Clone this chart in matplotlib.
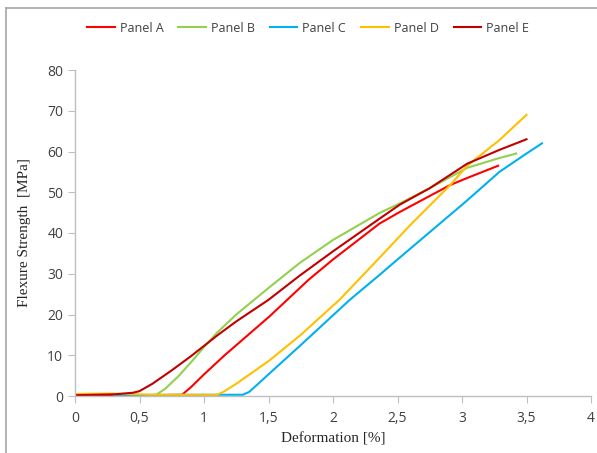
import matplotlib.pyplot as plt
from matplotlib.lines import Line2D
from matplotlib.ticker import FuncFormatter

# deformation [%] / flexure strength [MPa]
panel_a_x = [0, 0.5, 0.83, 0.9, 1.0, 1.16, 1.51, 1.81, 2.0, 2.36, 2.52, 2.91, 3.04, 3.28]
panel_a_y = [0.3, 0.2, 0.3, 2.2, 5.3, 10, 19.6, 28.5, 33.5, 42.3, 45.2, 51.8, 53.5, 56.5]

panel_b_x = [0.3, 0.63, 0.7, 0.8, 0.9, 1.0, 1.1, 1.25, 1.5, 1.74, 2.0, 2.36, 2.52, 2.75, 3.04, 3.29, 3.42]
panel_b_y = [0.2, 0.3, 1.8, 4.8, 8.3, 12, 15.5, 20, 26.5, 32.6, 38.3, 44.9, 47.3, 51, 56, 58.4, 59.5]

panel_c_x = [0.3, 1.0, 1.3, 1.35, 1.42, 1.51, 1.75, 2.13, 2.36, 2.5, 3.04, 3.29, 3.5, 3.62]
panel_c_y = [0.2, 0.3, 0.3, 1, 3, 5.6, 12.5, 23.6, 29.7, 33.5, 48, 55, 59.5, 62]

panel_d_x = [0, 0.3, 0.6, 1.0, 1.1, 1.15, 1.25, 1.51, 1.75, 2.05, 2.36, 2.6, 2.91, 3.04, 3.29, 3.5]
panel_d_y = [0.5, 0.6, 0.3, 0.3, 0.3, 1, 3, 8.8, 15, 23.6, 33.9, 42, 51.8, 56.5, 62.8, 69]

panel_e_x = [0, 0.3, 0.45, 0.5, 0.6, 0.75, 0.9, 1.0, 1.1, 1.25, 1.5, 1.74, 2.0, 2.36, 2.52, 2.75, 3.04, 3.29, 3.5]
panel_e_y = [0.2, 0.4, 0.8, 1.2, 3, 6.3, 9.8, 12.3, 14.8, 18.3, 23.6, 29.5, 35.5, 43.5, 47, 51, 57, 60.4, 63]

labels = ["Panel A", "Panel B", "Panel C", "Panel D", "Panel E"]
colors = ["#ff0000", "#92d050", "#00b0f0", "#ffc000", "#c00000"]
series = [(panel_a_x, panel_a_y), (panel_b_x, panel_b_y), (panel_c_x, panel_c_y),
          (panel_d_x, panel_d_y), (panel_e_x, panel_e_y)]

W, H = 597, 453
fig = plt.figure(figsize=(W / 100, H / 100), dpi=100)
ax = fig.add_axes([75 / W, 57 / H, 516 / W, 326 / H])

for (xs, ys), lab, col in zip(series, labels, colors):
    ax.plot(xs, ys, color=col, lw=1.5, label=lab)

ax.set_xlim(0, 4)
ax.set_ylim(0, 80)
ax.set_xticks([0, 0.5, 1, 1.5, 2, 2.5, 3, 3.5, 4])
ax.set_yticks(range(0, 81, 10))
ax.xaxis.set_major_formatter(FuncFormatter(lambda v, p: f"{v:g}".replace(".", ",")))

for s in ["top", "right"]:
    ax.spines[s].set_visible(False)
for s in ["left", "bottom"]:
    ax.spines[s].set_color("#bfbfbf")
    ax.spines[s].set_linewidth(1.0)
ax.tick_params(direction="out", length=5, color="#bfbfbf", labelcolor="#404040",
               labelsize=10)
for t in ax.get_xticklabels() + ax.get_yticklabels():
    t.set_fontfamily("Open Sans")
ax.tick_params(axis="x", pad=6)

ax.set_xlabel("Deformation [%]", family="Liberation Serif", fontsize=11, color="#262626")
ax.set_ylabel("Flexure Strength  [MPa]", family="Liberation Serif", fontsize=11,
              color="#262626", labelpad=12)

leg = fig.legend(handles=[Line2D([], [], color=c, lw=1.5) for c in colors], labels=labels,
                 loc="center", bbox_to_anchor=(308 / W, 1 - 28 / H), ncol=5, frameon=False,
                 prop={"family": "Open Sans", "size": 9}, handlelength=2.2,
                 columnspacing=1.2, handletextpad=0.4)
for t in leg.get_texts():
    t.set_color("#404040")

# outer chart frame
fig.add_artist(Line2D([6 / W, 6 / W], [0, 1 - 8 / H], color="#a6a6a6", lw=1.2))
fig.add_artist(Line2D([6 / W, 1], [1 - 8 / H, 1 - 8 / H], color="#a6a6a6", lw=1.2))

fig.savefig("out.png", dpi=100)
